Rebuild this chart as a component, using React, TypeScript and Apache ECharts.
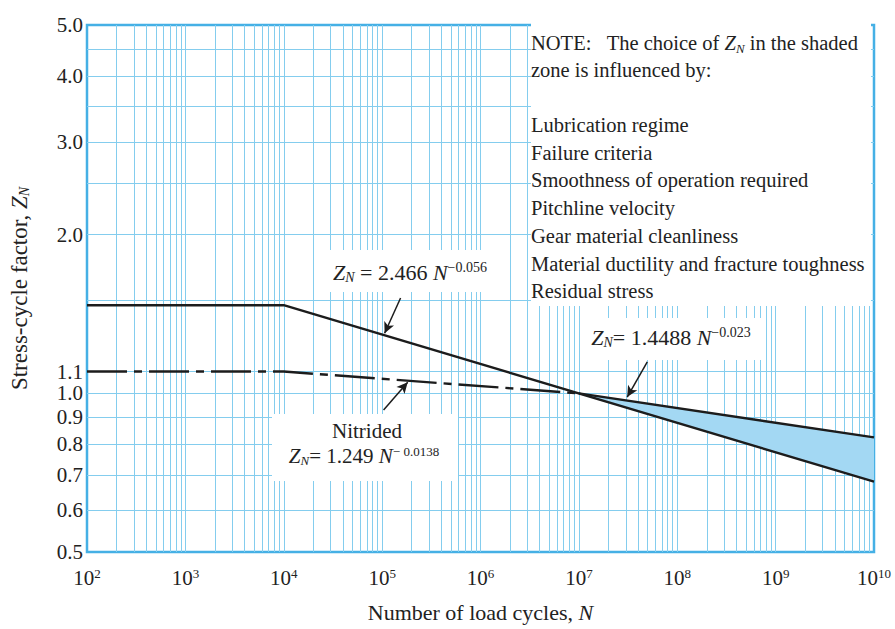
import React, { useEffect, useRef } from 'react';
import * as echarts from 'echarts';

const FONT = '"Liberation Serif", "Times New Roman", serif';
const TEXT = '#222';
const GRIDC = '#84cdee';

// axis structure
const xExponents = [2, 3, 4, 5, 6, 7, 8, 9];
const minorMultipliers = [1, 2, 3, 4, 5, 6, 7, 8, 9];
const yGridValues = [0.5, 0.6, 0.7, 0.8, 0.9, 1.0, 1.1, 1.5, 2.0, 2.5, 3.0, 3.5, 4.0, 4.5, 5.0];
const yTickLabels = [0.5, 0.6, 0.7, 0.8, 0.9, 1.0, 1.1, 2.0, 3.0, 4.0, 5.0];

// curves
const mainN = [1e2, 1e4, 1e10];
const mainZ = [1.47, 1.47, 0.68];
const nitridedN = [1e2, 1e4, 1e7];
const nitridedZ = [1.1, 1.1, 1.0];
const upperN = [1e7, 1e10];
const upperZ = [1.0, 0.825];
const shadeLowerN = [1e7, 1e10];
const shadeLowerZ = [1.0, 0.68];

// annotation arrows: [from, to] in data coords
const arrowFrom = [[1.54e5, 1.517], [4.96e7, 1.147], [1.035e5, 0.93]];
const arrowTo = [[1.06e5, 1.3], [3.1e7, 0.984], [1.82e5, 1.05]];

const noteHead = ['NOTE:\u00a0\u00a0\u00a0The choice of {i|Z}{sub|N} in the shaded', 'zone is influenced by:'];
const noteFactors = [
  'Lubrication regime',
  'Failure criteria',
  'Smoothness of operation required',
  'Pitchline velocity',
  'Gear material cleanliness',
  'Material ductility and fracture toughness',
  'Residual stress',
];

function makeRich(size: number, lh: number) {
  return {
    i: { fontStyle: 'italic', fontSize: size, fontFamily: FONT, fill: TEXT, lineHeight: lh },
    sub: { fontStyle: 'italic', fontSize: Math.round(size * 0.62), fontFamily: FONT, fill: TEXT, verticalAlign: 'bottom', lineHeight: lh },
    sup: { fontSize: Math.round(size * 0.64), fontFamily: FONT, fill: TEXT, verticalAlign: 'top', lineHeight: 14 },
  };
}

function txt(text: string, x: number, y: number, align = 'left', size = 20.5, lh = 24) {
  return {
    type: 'text',
    x,
    y,
    z: 3,
    silent: true,
    style: {
      text,
      fill: TEXT,
      fontSize: size,
      fontFamily: FONT,
      align,
      verticalAlign: 'middle',
      lineHeight: lh,
      rich: makeRich(size, lh),
    },
  };
}

function box(x: number, y: number, w: number, h: number) {
  return { type: 'rect', z: 3, silent: true, shape: { x, y, width: w, height: h }, style: { fill: '#fff' } };
}

export default function App() {
  const ref = useRef<HTMLDivElement>(null);
  useEffect(() => {
    if (!ref.current) return;
    const chart = echarts.init(ref.current, null, { renderer: 'svg' });

    const xGridValues: number[] = [];
    xExponents.forEach((e) =>
      minorMultipliers.forEach((m) => {
        if (!(e === 2 && m === 1)) xGridValues.push(m * Math.pow(10, e));
      })
    );

    const yLines = yGridValues.map((v) => {
      const edge = v === yGridValues[0] || v === yGridValues[yGridValues.length - 1];
      return {
        yAxis: v,
        lineStyle: { color: edge ? 'rgba(0,0,0,0)' : GRIDC, width: 1 },
        label: {
          show: yTickLabels.indexOf(v) >= 0,
          position: 'start',
          formatter: v.toFixed(1),
          fontSize: 21,
          fontFamily: FONT,
          color: TEXT,
          opacity: 1,
          distance: 4,
        },
      };
    });

    const graphic: any[] = [
      box(531, 18, 340, 288),
      box(326, 250, 180, 42),
      box(580, 318, 185, 42),
      box(272, 414, 186, 67),
    ];
    noteHead.forEach((t, i) => graphic.push(txt(t, 531, 43 + i * 27.4)));
    noteFactors.forEach((t, i) => graphic.push(txt(t, 531, 125 + i * 27.7)));
    graphic.push(txt('{i|Z}{sub|N} = 2.466 {i|N}{sup|\u22120.056}', 410, 272, 'center', 22));
    graphic.push(txt('{i|Z}{sub|N}= 1.4488 {i|N}{sup|\u22120.023}', 671, 337, 'center', 22));
    graphic.push(txt('Nitrided', 367, 431, 'center', 21, 21));
    graphic.push(txt('{i|Z}{sub|N}= 1.249 {i|N}{sup|\u2212 0.0138}', 364, 456, 'center', 21, 22));

    const option: any = {
      animation: false,
      backgroundColor: '#fff',
      grid: {
        left: 86,
        right: 21,
        top: 25,
        bottom: 77,
        show: true,
        borderColor: '#45b0e5',
        borderWidth: 2.5,
        backgroundColor: 'transparent',
      },
      xAxis: {
        type: 'log',
        logBase: 10,
        min: 1e2,
        max: 1e10,
        axisLine: { show: false },
        axisTick: { show: false },
        splitLine: { show: false },
        axisLabel: {
          margin: 15,
          fontSize: 21,
          fontFamily: FONT,
          color: TEXT,
          formatter: (v: number) => '10{sup|' + Math.round(Math.log10(v)) + '}',
          rich: { sup: { fontSize: 13, fontFamily: FONT, color: TEXT, verticalAlign: 'top' } },
        },
        name: 'Number of load cycles, {i|N}',
        nameLocation: 'middle',
        nameGap: 49,
        nameTextStyle: {
          fontSize: 22,
          fontFamily: FONT,
          color: TEXT,
          rich: { i: { fontStyle: 'italic', fontSize: 22, fontFamily: FONT, color: TEXT } },
        },
      },
      yAxis: {
        type: 'log',
        logBase: 10,
        min: 0.5,
        max: 5,
        axisLine: { show: false },
        axisTick: { show: false },
        splitLine: { show: false },
        axisLabel: { show: false },
        name: 'Stress-cycle factor, {i|Z}{sub|N}',
        nameLocation: 'middle',
        nameRotate: 90,
        nameGap: 56,
        nameTextStyle: {
          fontSize: 23,
          fontFamily: FONT,
          color: TEXT,
          rich: {
            i: { fontStyle: 'italic', fontSize: 23, fontFamily: FONT, color: TEXT },
            sub: { fontStyle: 'italic', fontSize: 14, fontFamily: FONT, color: TEXT, verticalAlign: 'bottom' },
          },
        },
      },
      graphic,
      series: [
        {
          type: 'line',
          z: 1,
          silent: true,
          data: [],
          markLine: {
            z: 1,
            silent: true,
            symbol: ['none', 'none'],
            animation: false,
            label: { show: false },
            lineStyle: { color: GRIDC, width: 1, type: 'solid' },
            emphasis: { disabled: true },
            data: xGridValues.map((v) => ({ xAxis: v })),
          },
        },
        {
          type: 'line',
          z: 1,
          silent: true,
          data: [],
          markLine: {
            z: 1,
            silent: true,
            symbol: ['none', 'none'],
            animation: false,
            lineStyle: { color: GRIDC, width: 1, type: 'solid' },
            emphasis: { disabled: true },
            data: yLines,
          },
        },
        {
          type: 'custom',
          z: 4,
          silent: true,
          data: [[upperN[0], upperZ[0]]],
          renderItem: (_p: any, api: any) => {
            const pts: number[][] = [];
            upperN.forEach((n, i) => pts.push(api.coord([n, upperZ[i]])));
            for (let i = shadeLowerN.length - 1; i >= 0; i--) pts.push(api.coord([shadeLowerN[i], shadeLowerZ[i]]));
            return { type: 'polygon', shape: { points: pts }, style: { fill: '#a3d8f3' } };
          },
        },
        {
          type: 'line',
          z: 5,
          silent: true,
          symbol: 'none',
          data: mainN.map((n, i) => [n, mainZ[i]]),
          lineStyle: { color: '#1c1c1c', width: 2.4 },
          markLine: {
            z: 6,
            silent: true,
            animation: false,
            symbol: ['none', 'arrow'],
            symbolSize: [8, 11],
            label: { show: false },
            lineStyle: { color: '#1c1c1c', width: 1.5, type: 'solid' },
            emphasis: { disabled: true },
            data: arrowFrom.map((f, i) => [{ coord: f }, { coord: arrowTo[i] }]),
          },
        },
        {
          type: 'line',
          z: 5,
          silent: true,
          symbol: 'none',
          data: nitridedN.map((n, i) => [n, nitridedZ[i]]),
          lineStyle: { color: '#1c1c1c', width: 2.4, type: [40, 7, 8, 7] },
        },
        {
          type: 'line',
          z: 5,
          silent: true,
          symbol: 'none',
          data: upperN.map((n, i) => [n, upperZ[i]]),
          lineStyle: { color: '#1c1c1c', width: 2.4 },
        },
      ],
    };
    chart.setOption(option);
    return () => chart.dispose();
  }, []);
  return <div ref={ref} style={{ position: 'fixed', left: 0, top: 0, width: 895, height: 629, background: '#fff' }} />;
}
